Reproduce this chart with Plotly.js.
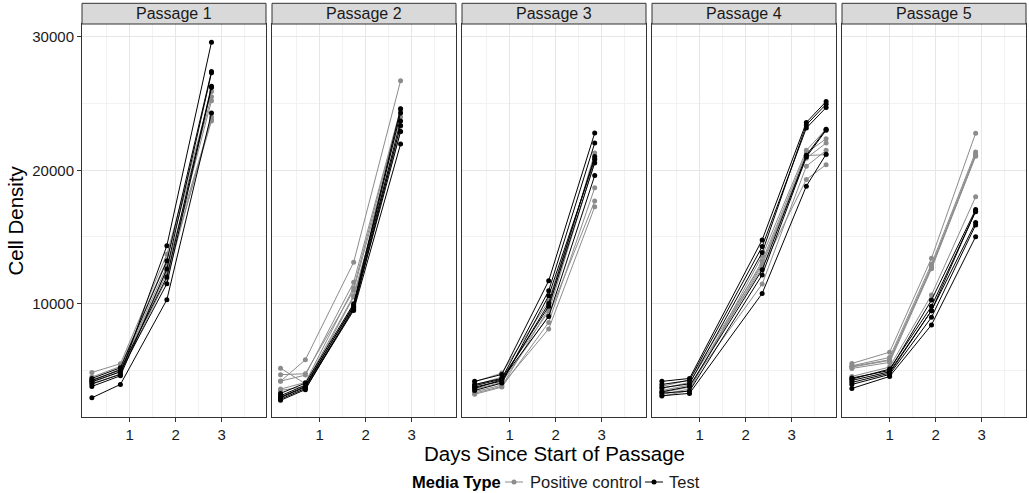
<!DOCTYPE html>
<html>
<head>
<meta charset="utf-8">
<script src="https://cdn.plot.ly/plotly-3.0.1.min.js"></script>
<style>html,body{margin:0;padding:0;background:#fff;}#chart{width:1029px;height:493px;}</style>
</head>
<body>
<div id="chart"></div>
<script>
// ---- Data ----
const passages = ["Passage 1", "Passage 2", "Passage 3", "Passage 4", "Passage 5"];
const mediaTypes = ["Positive control", "Test"];
const legendTitle = "Media Type";
const xTickVals = [1, 2, 3];
const yTickVals = [10000, 20000, 30000];

// days since start of passage for each passage's sampling points
const days1 = [0.18, 0.80, 1.81, 2.78];
const days2 = [0.15, 0.69, 1.74, 2.76];
const days3 = [0.24, 0.83, 1.85, 2.85];
const days4 = [0.18, 0.78, 2.36, 3.32, 3.75];
const days5 = [0.18, 1.00, 1.91, 2.87];

// Passage 1
const control1 = [
  [4850, 5500, 13700, 25900],
  [4500, 5300, 13300, 25500],
  [4200, 5100, 12800, 23800],
  [4100, 4900, 12300, 23700],
  [3950, 4750, 11900, 24000],
  [4300, 5000, 12500, 25200]
];
const test1 = [
  [2950, 3950, 10300, 24300],
  [4000, 4700, 14350, 29600],
  [3800, 4600, 12600, 27300],
  [4400, 5200, 13200, 27400],
  [4150, 4900, 11500, 26200],
  [4250, 5050, 12000, 26300]
];
// Passage 2
const control2 = [
  [5170, 4000, 10600, 22900],
  [4680, 4750, 11000, 24000],
  [4180, 5800, 13100, 26700],
  [4200, 4650, 11600, 24600],
  [3500, 3800, 10500, 23300],
  [3600, 4100, 11200, 24500]
];
const test2 = [
  [3280, 4050, 10000, 24600],
  [3100, 3900, 9800, 23700],
  [2950, 3750, 9600, 23360],
  [2850, 3650, 9500, 21960],
  [2760, 3560, 9700, 22900],
  [3000, 3800, 9900, 24300]
];
// Passage 3
const control3 = [
  [3300, 3800, 9630, 21290],
  [3210, 3750, 8600, 18680],
  [3400, 3900, 8110, 17260],
  [3600, 4100, 9100, 17690],
  [3900, 4500, 9400, 20670],
  [4150, 4800, 10200, 20900]
];
const test3 = [
  [4180, 4700, 11720, 22790],
  [3950, 4400, 10970, 22040],
  [3750, 4200, 10020, 21040],
  [3500, 4050, 10600, 20820],
  [3650, 4300, 9050, 19600],
  [3850, 4350, 9800, 20550]
];
// Passage 4
const control4 = [
  [3060, 3500, 13580, 21490, 23080],
  [3200, 3600, 13200, 21300, 22360],
  [3350, 3750, 12900, 20900, 22040],
  [3500, 3900, 11470, 20300, 21490],
  [3650, 4100, 12690, 19310, 20420],
  [3800, 4300, 13000, 21100, 21170]
];
const test4 = [
  [4180, 4400, 14780, 23580, 25150],
  [3950, 4250, 14280, 23160, 24700],
  [3700, 4000, 13830, 23400, 24950],
  [3400, 3800, 12540, 21120, 23080],
  [3300, 3450, 12160, 21000, 23000],
  [3100, 3280, 10770, 18810, 21200]
];
// Passage 5
const control5 = [
  [5520, 6370, 13410, 22780],
  [5350, 5970, 12980, 21370],
  [5250, 5750, 12800, 21220],
  [5150, 5600, 12610, 21050],
  [4550, 5250, 10650, 18010],
  [5300, 5800, 12700, 21100]
];
const test5 = [
  [4430, 5000, 10270, 17050],
  [4250, 4900, 9480, 16950],
  [4100, 4800, 9480, 16080],
  [3950, 4700, 8980, 15900],
  [3650, 4550, 8410, 15020],
  [4350, 5100, 9800, 16900]
];

// ---- Build figure ----
const allDays = [days1, days2, days3, days4, days5];
const allControl = [control1, control2, control3, control4, control5];
const allTest = [test1, test2, test3, test4, test5];

const FONT = "Liberation Sans, Arial, Helvetica, sans-serif";
const GREY = "#8c8c8c";
const BLACK = "#000000";

const traces = [];
for (let p = 0; p < passages.length; p++) {
  const xa = p === 0 ? "x" : "x" + (p + 1);
  const ya = p === 0 ? "y" : "y" + (p + 1);
  allControl[p].forEach(vals => {
    traces.push({
      x: allDays[p], y: vals, xaxis: xa, yaxis: ya, type: "scatter", mode: "lines+markers",
      name: mediaTypes[0], showlegend: false,
      line: {color: GREY, width: 1}, marker: {color: GREY, size: 5}
    });
  });
  allTest[p].forEach(vals => {
    traces.push({
      x: allDays[p], y: vals, xaxis: xa, yaxis: ya, type: "scatter", mode: "lines+markers",
      name: mediaTypes[1], showlegend: false,
      line: {color: BLACK, width: 1}, marker: {color: BLACK, size: 5}
    });
  });
}

const W = 1029, H = 493;
const mL = 82, mR = 3, mT = 24, mB = 76;
const plotW = W - mL - mR, plotH = H - mT - mB;
const panelW = 184, gap = 6;
const stripTop = 3.3;
const px2x = px => (px - mL) / plotW;
const py2y = py => (mT + plotH - py) / plotH;

const layout = {
  width: W, height: H,
  margin: {l: mL, r: mR, t: mT, b: mB, pad: 0},
  paper_bgcolor: "#ffffff", plot_bgcolor: "#ffffff",
  font: {family: FONT, size: 15, color: "#1a1a1a"},
  showlegend: false,
  shapes: [], annotations: []
};

for (let p = 0; p < passages.length; p++) {
  const sfx = p === 0 ? "" : String(p + 1);
  const x0 = (p * (panelW + gap)) / plotW;
  const x1 = (p * (panelW + gap) + panelW) / plotW;
  layout["xaxis" + sfx] = {
    domain: [x0, Math.min(1, x1)], anchor: "y" + sfx, range: [-0.035, 3.965],
    tickmode: "array", tickvals: xTickVals, ticktext: xTickVals.map(String),
    ticks: "outside", ticklen: 4, tickwidth: 1, tickcolor: "#333333",
    showline: true, linecolor: "#333333", linewidth: 1, mirror: true,
    showgrid: true, gridcolor: "#e6e6e6", gridwidth: 1,
    minor: {tickmode: "array", tickvals: [0.5, 1.5, 2.5, 3.5], showgrid: true, gridcolor: "#f2f2f2", gridwidth: 1, ticks: ""},
    zeroline: false, fixedrange: true, automargin: false,
    tickfont: {size: 15, color: "#1a1a1a"}
  };
  layout["yaxis" + sfx] = {
    domain: [0, 1], anchor: "x" + sfx, range: [1510, 30960],
    tickmode: "array", tickvals: yTickVals, ticktext: yTickVals.map(String),
    ticks: p === 0 ? "outside" : "", ticklen: 4, tickwidth: 1, tickcolor: "#333333",
    showticklabels: p === 0,
    showline: true, linecolor: "#333333", linewidth: 1, mirror: true,
    showgrid: true, gridcolor: "#e6e6e6", gridwidth: 1,
    minor: {tickmode: "array", tickvals: [5000, 15000, 25000], showgrid: true, gridcolor: "#f2f2f2", gridwidth: 1, ticks: ""},
    zeroline: false, fixedrange: true, automargin: false,
    tickfont: {size: 15, color: "#1a1a1a"}
  };
  if (p > 0) layout["yaxis" + sfx].matches = "y";
  // strip
  layout.shapes.push({
    type: "rect", xref: "x" + sfx + " domain", yref: "paper",
    x0: 0, x1: 1, y0: 1, y1: 1 + (mT - stripTop) / plotH,
    fillcolor: "#d9d9d9", line: {color: "#333333", width: 1}, layer: "above"
  });
  layout.annotations.push({
    text: passages[p], xref: "x" + sfx + " domain", yref: "paper",
    x: 0.5, y: 1 + (mT - stripTop) / 2 / plotH, xanchor: "center", yanchor: "middle",
    showarrow: false, font: {size: 16, color: "#1a1a1a", family: FONT}
  });
}

// axis titles
layout.annotations.push({
  text: "Days Since Start of Passage", xref: "paper", yref: "paper",
  x: 0.5, y: py2y(453), xanchor: "center", yanchor: "middle",
  showarrow: false, font: {size: 20.5, color: "#000", family: FONT}
});
layout.annotations.push({
  text: "Cell Density", xref: "paper", yref: "paper", textangle: -90,
  x: px2x(15), y: 0.5, xanchor: "center", yanchor: "middle",
  showarrow: false, font: {size: 20.5, color: "#000", family: FONT}
});

// manual legend (ggplot style: short key lines with a point)
const legY = 482;
layout.annotations.push({
  text: "<b>" + legendTitle + "</b>", xref: "paper", yref: "paper",
  x: px2x(410), y: py2y(legY), xanchor: "left", yanchor: "middle",
  showarrow: false, font: {size: 16.5, color: "#000", family: FONT}
});
const keys = [
  {label: mediaTypes[0], color: GREY, k0: 505, k1: 523, tx: 528},
  {label: mediaTypes[1], color: BLACK, k0: 645, k1: 663, tx: 667}
];
keys.forEach(k => {
  layout.shapes.push({
    type: "line", xref: "paper", yref: "paper",
    x0: px2x(k.k0), x1: px2x(k.k1), y0: py2y(legY), y1: py2y(legY),
    line: {color: k.color, width: 1}
  });
  const cx = (k.k0 + k.k1) / 2, r = 2.5;
  layout.shapes.push({
    type: "circle", xref: "paper", yref: "paper",
    x0: px2x(cx - r), x1: px2x(cx + r), y0: py2y(legY + r), y1: py2y(legY - r),
    fillcolor: k.color, line: {color: k.color, width: 0}
  });
  layout.annotations.push({
    text: k.label, xref: "paper", yref: "paper",
    x: px2x(k.tx), y: py2y(legY), xanchor: "left", yanchor: "middle",
    showarrow: false, font: {size: 16.5, color: "#1a1a1a", family: FONT}
  });
});

Plotly.newPlot("chart", traces, layout, {displayModeBar: false, staticPlot: true});
</script>
</body>
</html>
